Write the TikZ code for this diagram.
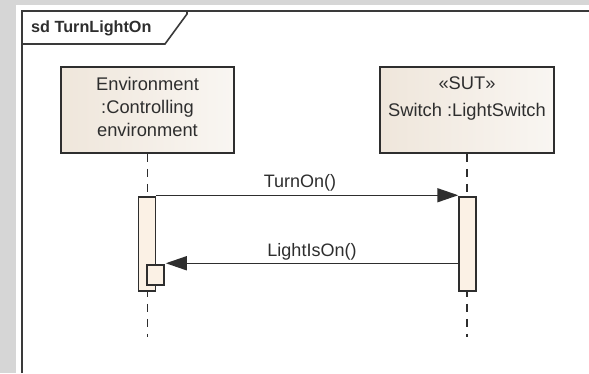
\documentclass[tikz,border=0pt]{standalone}
\usepackage{fontspec}
\setmainfont{Liberation Sans}
\usetikzlibrary{arrows.meta,calc}
\definecolor{bggray}{HTML}{D6D6D6}
\definecolor{frameline}{HTML}{3A3A3A}
\definecolor{txt}{HTML}{2E2E2E}
\definecolor{boxleft}{HTML}{EFE6DB}
\definecolor{boxright}{HTML}{F9F6F2}
\definecolor{actfill}{HTML}{FBF1E5}
\tikzset{
  lifebox/.style={draw=txt, line width=1.8pt, rectangle, left color=boxleft, right color=boxright, inner sep=0pt},
  boxtext/.style={text=txt, align=center, font=\fontsize{18.3}{23}\selectfont, inner sep=0pt},
  actbox/.style={draw=txt, line width=1.5pt, fill=actfill, rectangle, inner sep=0pt, minimum width=17pt},
  lifeline/.style={draw=txt, line width=1.5pt, dash pattern=on 8pt off 7pt},
  msg/.style={draw=txt, line width=1.5pt, -{Triangle[length=21pt,width=14pt]}},
  msglabel/.style={text=txt, font=\fontsize{18}{22}\selectfont, inner sep=0pt},
}
\begin{document}
\begin{tikzpicture}[x=1pt,y=-1pt]
\useasboundingbox (0,0) rectangle (589,373);
% background
\fill[bggray] (0,0) rectangle (589,373);
\fill[white] (16,5) rectangle (589,373);
% frame
\draw[frameline, line width=2pt] (22,373) -- (22,11) -- (589,11);
\draw[frameline, line width=1.6pt] (187,11) -- (187,14) -- (165,44) -- (22,44);
\node[anchor=west, text=txt, font=\bfseries\fontsize{16.2}{20}\selectfont, inner sep=0pt] (title) at (31,28) {sd TurnLightOn};
% lifeline heads
\node[lifebox, minimum width=173pt, minimum height=86pt] (envbox) at (147.5,110) {};
\node[boxtext] (envlabel) at (147.5,107) {Environment\\:Controlling\\environment};
\node[lifebox, minimum width=174pt, minimum height=86pt] (sutbox) at (467,110) {};
\node[boxtext] (sutlabel) at (467,98.5) {«SUT»\\[4pt]Switch :LightSwitch};
% lifelines
\coordinate (envend) at (147.5,337);
\coordinate (sutend) at (467,337);
\draw[lifeline] (envbox.south) -- (envend);
\draw[lifeline] (sutbox.south) -- (sutend);
% activations
\node[actbox, minimum height=94pt] (envact) at (147,244) {};
\node[actbox, minimum height=94pt] (sutact) at (467.5,244) {};
\node[actbox, minimum height=20pt] (selfact) at (155.5,275) {};
% messages
\draw[msg] ($(envact.north east)+(0,-1)$) -- ($(sutact.north west)+(0,-1)$);
\node[msglabel] (turnon) at (300,183) {TurnOn()};
\draw[msg] ($(sutact.west |- selfact.north east)+(0,-1)$) -- ($(selfact.north east)+(1,-1)$);
\node[msglabel] (lightison) at (312,252) {LightIsOn()};
\end{tikzpicture}
\end{document}
